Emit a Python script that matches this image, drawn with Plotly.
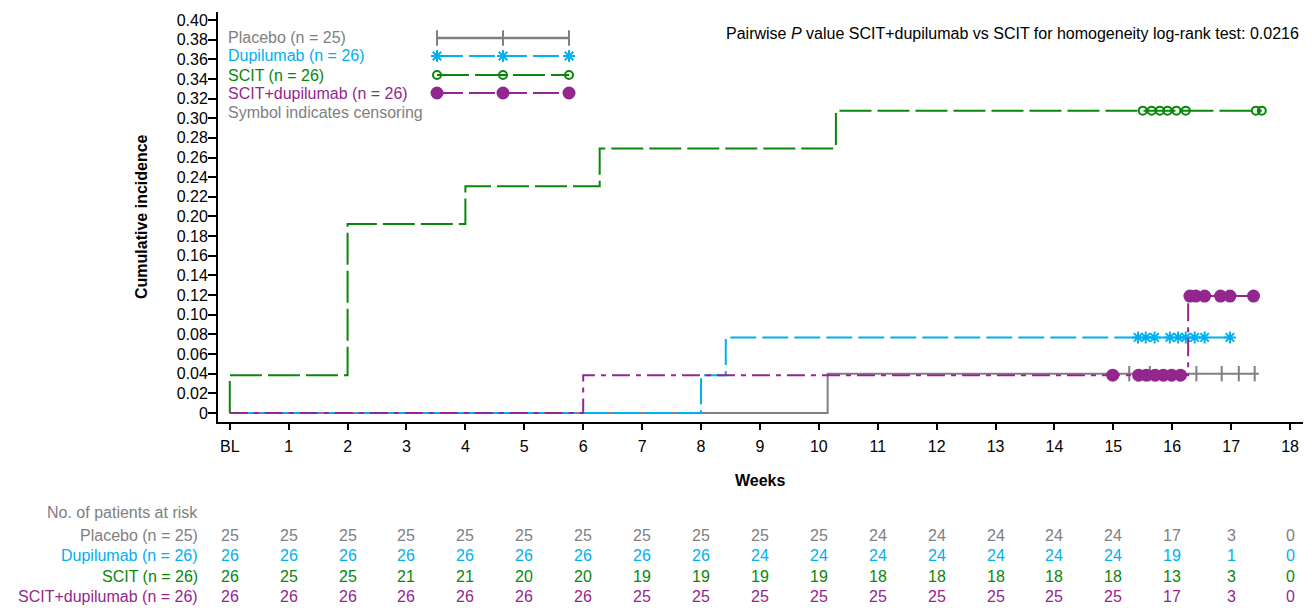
import numpy as np
import plotly.graph_objects as go

# ---------------- data ----------------
week_ticks = [0, 1, 2, 3, 4, 5, 6, 7, 8, 9, 10, 11, 12, 13, 14, 15, 16, 17, 18]
week_labels = ["BL", "1", "2", "3", "4", "5", "6", "7", "8", "9", "10",
               "11", "12", "13", "14", "15", "16", "17", "18"]
y_ticks = [0, 0.02, 0.04, 0.06, 0.08, 0.10, 0.12, 0.14, 0.16, 0.18, 0.20,
           0.22, 0.24, 0.26, 0.28, 0.30, 0.32, 0.34, 0.36, 0.38, 0.40]
y_labels = ["0", "0.02", "0.04", "0.06", "0.08", "0.10", "0.12", "0.14", "0.16",
            "0.18", "0.20", "0.22", "0.24", "0.26", "0.28", "0.30", "0.32",
            "0.34", "0.36", "0.38", "0.40"]

group_names = ["Placebo (n = 25)", "Dupilumab (n = 26)", "SCIT (n = 26)",
               "SCIT+dupilumab (n = 26)"]

placebo_event_weeks = [10.15]
placebo_cum_incidence = [0.040]
placebo_last_week = 17.47
placebo_censor_weeks = [15.27, 15.62, 16.41, 16.84, 17.13, 17.40]

dupilumab_event_weeks = [8.0, 8.42]
dupilumab_cum_incidence = [0.0385, 0.0769]
dupilumab_last_week = 16.98
dupilumab_censor_weeks = [15.42, 15.55, 15.70, 15.96, 16.10, 16.23, 16.38, 16.55, 16.98]

scit_event_weeks = [0.0, 2.0, 4.0, 6.28, 10.29]
scit_cum_incidence = [0.0385, 0.1923, 0.2308, 0.2692, 0.3077]
scit_last_week = 17.52
scit_censor_weeks = [15.50, 15.65, 15.79, 15.92, 16.07, 16.23, 17.42, 17.52]

combo_event_weeks = [6.0, 16.27]
combo_cum_incidence = [0.0385, 0.119]
combo_last_week = 17.38
combo_censor_weeks = [14.99, 15.43, 15.56, 15.71, 15.85, 15.99, 16.14,
                      16.30, 16.40, 16.55, 16.82, 16.98, 17.38]

placebo_at_risk = [25, 25, 25, 25, 25, 25, 25, 25, 25, 25, 25, 24, 24, 24, 24, 24, 17, 3, 0]
dupilumab_at_risk = [26, 26, 26, 26, 26, 26, 26, 26, 26, 24, 24, 24, 24, 24, 24, 24, 19, 1, 0]
scit_at_risk = [26, 25, 25, 21, 21, 20, 20, 19, 19, 19, 19, 18, 18, 18, 18, 18, 13, 3, 0]
combo_at_risk = [26, 26, 26, 26, 26, 26, 26, 25, 25, 25, 25, 25, 25, 25, 25, 25, 17, 3, 0]

pvalue_text = "Pairwise <i>P</i> value SCIT+dupilumab vs SCIT for homogeneity log-rank test: 0.0216"

# ---------------- styles ----------------
colors = ["#808080", "#00b0f0", "#0a870a", "#93278f"]
dashes = ["solid", "26px,6px", "32px,6px", "18px,6px,5px,6px"]
symbols = ["line-ns-open", "asterisk-open", "circle-open", "circle"]
msizes = [11, 10, 8, 11]
FONT = "Liberation Sans, Arial, sans-serif"

W, H = 1312, 608
L, R, T, B = 218, 9, 12, 186
PW, PH = W - L - R, H - T - B


def xp(px):
    return (px - L) / PW


def yp(py):
    return (H - B - py) / PH


series = [
    (placebo_event_weeks, placebo_cum_incidence, placebo_last_week, placebo_censor_weeks),
    (dupilumab_event_weeks, dupilumab_cum_incidence, dupilumab_last_week, dupilumab_censor_weeks),
    (scit_event_weeks, scit_cum_incidence, scit_last_week, scit_censor_weeks),
    (combo_event_weeks, combo_cum_incidence, combo_last_week, combo_censor_weeks),
]
at_risk = [placebo_at_risk, dupilumab_at_risk, scit_at_risk, combo_at_risk]

fig = go.Figure()

for i, (ev_w, ev_c, last_w, cens_w) in enumerate(series):
    xs = [0.0] + list(ev_w) + [last_w]
    ys = [0.0] + list(ev_c) + [ev_c[-1]]
    fig.add_trace(go.Scatter(
        x=xs, y=ys, mode="lines", line=dict(color=colors[i], width=2, dash=dashes[i], shape="hv"),
        showlegend=False, hoverinfo="skip"))
    ev_w_arr = np.array(ev_w)
    cy = []
    for c in cens_w:
        k = np.searchsorted(ev_w_arr, c, side="right")
        cy.append(0.0 if k == 0 else ev_c[k - 1])
    fig.add_trace(go.Scatter(
        x=cens_w, y=cy, mode="markers",
        marker=dict(symbol=symbols[i], size=msizes[i], color=colors[i],
                    line=dict(color=colors[i], width=2)),
        showlegend=False, hoverinfo="skip"))

# ---------------- legend (custom, text left / symbol right) ----------------
legend_text_rows = [37, 56, 75, 94]
legend_line_rows = [38, 56, 75, 93]
for i in range(4):
    fig.add_trace(go.Scatter(
        x=[437, 503, 569], y=[legend_line_rows[i]] * 3, xaxis="x2", yaxis="y2",
        mode="lines+markers",
        line=dict(color=colors[i], width=2.5 if i == 0 else 2,
                  dash=dashes[i] if i != 3 else "26px,6px"),
        marker=dict(symbol=symbols[i], size=msizes[i], color=colors[i],
                    line=dict(color=colors[i], width=2)),
        showlegend=False, hoverinfo="skip"))

annotations = []
for i in range(4):
    annotations.append(dict(text=group_names[i], x=xp(226), y=yp(legend_text_rows[i]),
                            xref="paper", yref="paper", xanchor="left", yanchor="middle",
                            showarrow=False, font=dict(size=16, color=colors[i], family=FONT)))
annotations.append(dict(text="Symbol indicates censoring", x=xp(226), y=yp(112),
                        xref="paper", yref="paper", xanchor="left", yanchor="middle",
                        showarrow=False, font=dict(size=16, color="#808080", family=FONT)))

annotations.append(dict(text=pvalue_text, x=xp(1301), y=yp(33), xref="paper", yref="paper",
                        xanchor="right", yanchor="middle", showarrow=False,
                        font=dict(size=16, color="black", family=FONT)))

# axis titles
annotations.append(dict(text="<b>Cumulative incidence</b>", x=xp(141), y=yp(217),
                        xref="paper", yref="paper", xanchor="center", yanchor="middle",
                        textangle=-90, showarrow=False,
                        font=dict(size=16, color="black", family=FONT)))
annotations.append(dict(text="<b>Weeks</b>", x=xp(760), y=yp(481),
                        xref="paper", yref="paper", xanchor="center", yanchor="middle",
                        showarrow=False, font=dict(size=16, color="black", family=FONT)))

# risk table
annotations.append(dict(text="No. of patients at risk", x=xp(45), y=yp(512),
                        xref="paper", yref="paper", xanchor="left", yanchor="middle",
                        showarrow=False, font=dict(size=16, color="#808080", family=FONT)))
risk_rows = [535, 555, 576, 596]
for i in range(4):
    annotations.append(dict(text=group_names[i], x=xp(200), y=yp(risk_rows[i]),
                            xref="paper", yref="paper", xanchor="right", yanchor="middle",
                            showarrow=False, font=dict(size=16, color=colors[i], family=FONT)))
    for w, n in zip(week_ticks, at_risk[i]):
        annotations.append(dict(text=str(n), x=w, y=yp(risk_rows[i]),
                                xref="x", yref="paper", xanchor="center", yanchor="middle",
                                showarrow=False, font=dict(size=16, color=colors[i], family=FONT)))

fig.update_layout(
    width=W, height=H,
    margin=dict(l=L, r=R, t=T, b=B),
    paper_bgcolor="white", plot_bgcolor="white",
    font=dict(family=FONT, size=16, color="black"),
    xaxis=dict(range=[-0.2, 18.22], tickmode="array", tickvals=week_ticks, ticktext=week_labels,
               showline=True, linecolor="black", linewidth=2, ticks="outside", ticklen=6,
               tickwidth=2, tickcolor="black", showgrid=False, zeroline=False,
               ticklabelstandoff=3,
               tickfont=dict(size=16, color="black", family=FONT)),
    yaxis=dict(range=[-0.0092, 0.4081], tickmode="array", tickvals=y_ticks, ticktext=y_labels,
               showline=True, linecolor="black", linewidth=2, ticks="outside", ticklen=8,
               tickwidth=2, tickcolor="black", showgrid=False, zeroline=False,
               ticklabelstandoff=-3,
               tickfont=dict(size=16, color="black", family=FONT)),
    xaxis2=dict(range=[L, W - R], overlaying="x", anchor="y2", visible=False, fixedrange=True),
    yaxis2=dict(range=[H - B, T], overlaying="y", anchor="x2", visible=False, fixedrange=True),
    annotations=annotations,
    showlegend=False,
)

fig.write_html("out.html", config={"displayModeBar": False},
               post_script="document.body.style.margin='0px';document.body.style.overflow='hidden';")
